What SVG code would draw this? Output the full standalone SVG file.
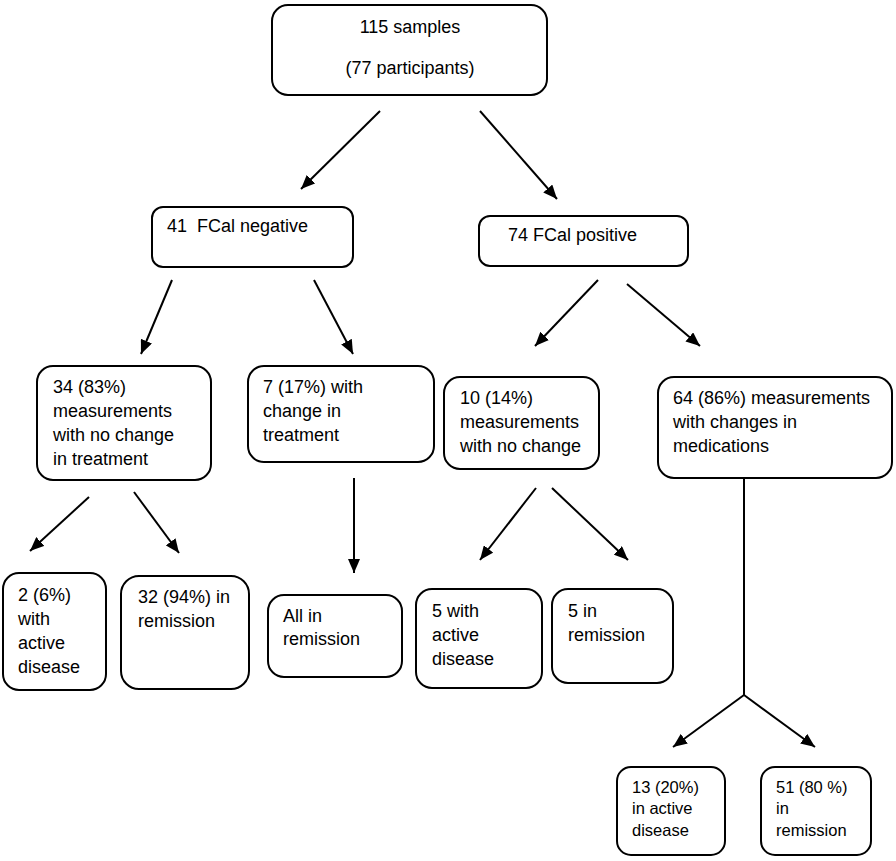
<svg xmlns="http://www.w3.org/2000/svg" width="896" height="861" viewBox="0 0 896 861">
<defs>
<marker id="ah" viewBox="0 0 14 12" refX="14" refY="6" markerWidth="14" markerHeight="12" markerUnits="userSpaceOnUse" orient="auto">
<path d="M0,0 L14,6 L0,12 z" fill="#000"/>
</marker>
<style>
.box{fill:#fff;stroke:#000;stroke-width:2}
.t{font-family:"Liberation Sans",Arial,sans-serif;font-size:18px;fill:#000;white-space:pre}
.s{font-size:16.5px}
.c{stroke:#000;stroke-width:2;fill:none}
.a{marker-end:url(#ah)}
</style>
</defs>
<rect width="896" height="861" fill="#fff"/>
<g id="connectors">
<line class="c a" x1="380" y1="111" x2="301" y2="189"/>
<line class="c a" x1="480" y1="111" x2="557" y2="199"/>
<line class="c a" x1="172" y1="280" x2="141" y2="354"/>
<line class="c a" x1="314" y1="280" x2="353" y2="354"/>
<line class="c a" x1="598" y1="280" x2="535" y2="346"/>
<line class="c a" x1="627" y1="284" x2="700" y2="346"/>
<line class="c a" x1="89" y1="497" x2="30" y2="551"/>
<line class="c a" x1="134" y1="492" x2="179" y2="553"/>
<line class="c a" x1="354" y1="478" x2="354" y2="573"/>
<line class="c a" x1="536" y1="488" x2="480" y2="560"/>
<line class="c a" x1="552" y1="488" x2="628" y2="560"/>
<line class="c" x1="744" y1="478" x2="744" y2="695"/>
<line class="c a" x1="744" y1="695" x2="673" y2="747"/>
<line class="c a" x1="744" y1="695" x2="815" y2="747"/>
</g>
<g id="n-top">
<rect class="box" x="272" y="5" width="275" height="90" rx="16"/>
<text class="t" x="410" y="33" text-anchor="middle">115 samples</text>
<text class="t" x="410" y="74" text-anchor="middle">(77 participants)</text>
</g>
<g id="n-neg">
<rect class="box" x="152" y="207" width="201" height="60" rx="11"/>
<text class="t" x="167" y="232">41  FCal negative</text>
</g>
<g id="n-pos">
<rect class="box" x="479" y="216" width="209" height="50" rx="11"/>
<text class="t" x="508" y="241">74 FCal positive</text>
</g>
<g id="n-34">
<rect class="box" x="37" y="366" width="174" height="114" rx="16"/>
<text class="t" x="53" y="393">34 (83%)</text>
<text class="t" x="53" y="417">measurements</text>
<text class="t" x="53" y="441">with no change</text>
<text class="t" x="53" y="465">in treatment</text>
</g>
<g id="n-7">
<rect class="box" x="248" y="366" width="186" height="96" rx="16"/>
<text class="t" x="263" y="393">7 (17%) with</text>
<text class="t" x="263" y="417">change in</text>
<text class="t" x="263" y="441">treatment</text>
</g>
<g id="n-10">
<rect class="box" x="444" y="377" width="155" height="92" rx="16"/>
<text class="t" x="460" y="404">10 (14%)</text>
<text class="t" x="460" y="428">measurements</text>
<text class="t" x="460" y="452">with no change</text>
</g>
<g id="n-64">
<rect class="box" x="658" y="377" width="234" height="101" rx="16"/>
<text class="t" x="673" y="404">64 (86%) measurements</text>
<text class="t" x="673" y="428">with changes in</text>
<text class="t" x="673" y="452">medications</text>
</g>
<g id="n-2">
<rect class="box" x="3" y="573" width="103" height="117" rx="16"/>
<text class="t" x="18" y="601">2 (6%)</text>
<text class="t" x="18" y="625">with</text>
<text class="t" x="18" y="649">active</text>
<text class="t" x="18" y="673">disease</text>
</g>
<g id="n-32">
<rect class="box" x="121" y="576" width="128" height="113" rx="18"/>
<text class="t" x="138" y="603">32 (94%) in</text>
<text class="t" x="138" y="627">remission</text>
</g>
<g id="n-all">
<rect class="box" x="268" y="595" width="134" height="82" rx="16"/>
<text class="t" x="283" y="622">All in</text>
<text class="t" x="283" y="645">remission</text>
</g>
<g id="n-5a">
<rect class="box" x="416" y="589" width="126" height="99" rx="16"/>
<text class="t" x="432" y="617">5 with</text>
<text class="t" x="432" y="641">active</text>
<text class="t" x="432" y="665">disease</text>
</g>
<g id="n-5r">
<rect class="box" x="552" y="589" width="121" height="94" rx="16"/>
<text class="t" x="568" y="617">5 in</text>
<text class="t" x="568" y="641">remission</text>
</g>
<g id="n-13">
<rect class="box" x="617" y="767" width="108" height="88" rx="14"/>
<text class="t s" x="632" y="793">13 (20%)</text>
<text class="t s" x="632" y="814">in active</text>
<text class="t s" x="632" y="836">disease</text>
</g>
<g id="n-51">
<rect class="box" x="761" y="767" width="110" height="88" rx="14"/>
<text class="t s" x="776" y="793">51 (80 %)</text>
<text class="t s" x="776" y="814">in</text>
<text class="t s" x="776" y="836">remission</text>
</g>
</svg>
